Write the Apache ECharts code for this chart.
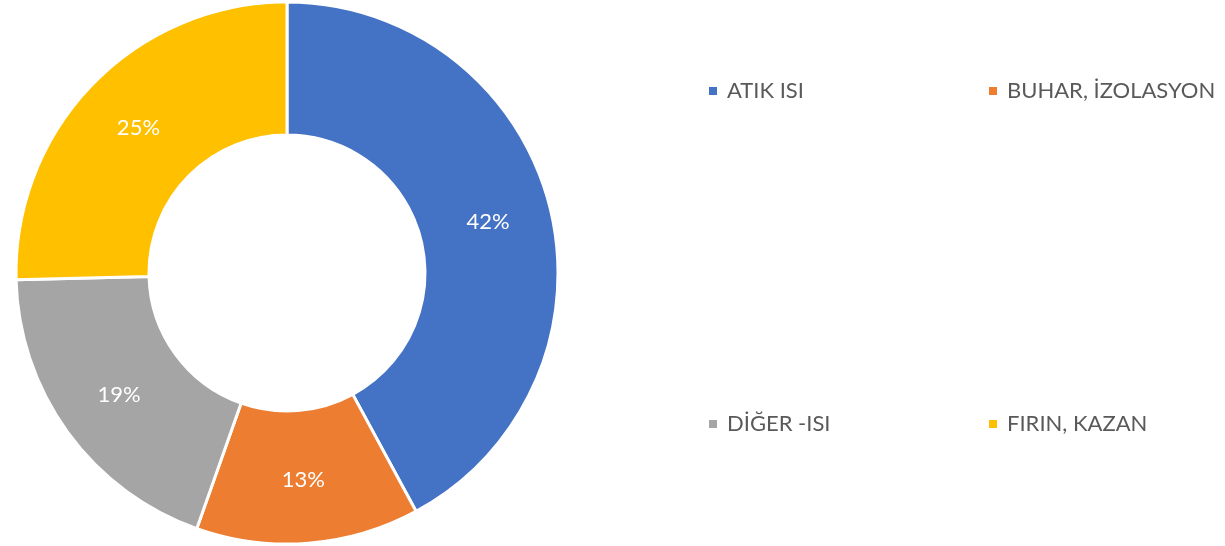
<!DOCTYPE html>
<html>
<head>
<meta charset="utf-8">
<script src="https://cdn.jsdelivr.net/npm/echarts@6/dist/echarts.min.js"></script>
<style>
  html, body { margin: 0; padding: 0; background: #fff; }
  #chart { width: 1225px; height: 546px; }
</style>
</head>
<body>
<div id="chart"></div>
<script>
// Donut: share of waste heat sources
const categories = ["ATIK ISI", "BUHAR, İZOLASYON", "DİĞER -ISI", "FIRIN, KAZAN"];
const values = [42.1, 13.3, 19.2, 25.4];
const colors = ["#4472C4", "#ED7D31", "#A5A5A5", "#FFC000"];

const fontFamily = "Lato, 'Open Sans', sans-serif";

const chart = echarts.init(document.getElementById("chart"), null, { renderer: "canvas" });

// one legend per item so the 2x2 grid lands where the reference has it
const legendPos = [
    { left: 707, top: 80 },
    { left: 987, top: 80 },
    { left: 707, top: 413 },
    { left: 987, top: 413 },
];
const legends = categories.map((name, i) => ({
    data: [name],
    left: legendPos[i].left,
    top: legendPos[i].top,
    padding: 0,
    icon: "rect",
    itemWidth: 10,
    itemHeight: 10,
    selectedMode: false,
    textStyle: {
        color: "#595959",
        fontSize: 22,
        fontFamily,
        padding: [0, 0, 0, 4],
    },
}));

chart.setOption({
    backgroundColor: "#fff",
    animation: false,
    color: colors,
    legend: legends,
    series: [
        {
            type: "pie",
            center: [287, 273],
            radius: [138, 271],
            startAngle: 90,
            clockwise: true,
            avoidLabelOverlap: false,
            itemStyle: { borderColor: "#fff", borderWidth: 3 },
            label: {
                show: true,
                position: "inside",
                color: "#fff",
                fontSize: 22,
                fontFamily,
                formatter: (p) => Math.round(p.percent) + "%",
            },
            labelLine: { show: false },
            emphasis: { disabled: true },
            data: categories.map((name, i) => ({ name, value: values[i] })),
        },
    ],
});
</script>
</body>
</html>
